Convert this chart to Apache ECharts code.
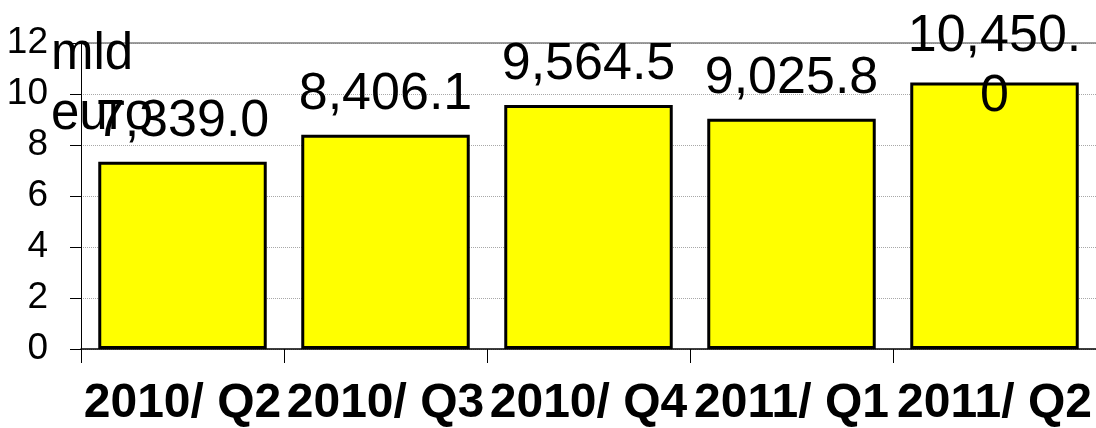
<!DOCTYPE html>
<html>
<head>
<meta charset="utf-8">
<script src="https://cdn.jsdelivr.net/npm/echarts@6/dist/echarts.min.js"></script>
<style>
  html, body { margin: 0; padding: 0; background: #fff; }
  #chart { width: 1096px; height: 428px; }
</style>
</head>
<body>
<div id="chart"></div>
<script>
const categories = ["2010/ Q2", "2010/ Q3", "2010/ Q4", "2011/ Q1", "2011/ Q2"];
// values in mln euro, axis shown in mld euro
const valuesMln = [7339.0, 8406.1, 9564.5, 9025.8, 10450.0];
const yTicks = { min: 0, max: 12, interval: 2 };
const unitLabel = "mld\neuro";

const FONT = "Liberation Sans, Arial, sans-serif";

const chart = echarts.init(document.getElementById("chart"));

const fmt = (v) =>
  v.toLocaleString("en-US", { minimumFractionDigits: 1, maximumFractionDigits: 1 });

const barData = valuesMln.map((v) => {
  const item = { value: v / 1000, raw: v };
  // long labels wrap; keep first line where a single line would sit
  if (fmt(v).length > 7) {
    item.label = { offset: [0, 54] };
  }
  return item;
});

const option = {
  animation: false,
  backgroundColor: "#fff",
  title: {
    text: unitLabel,
    left: 51,
    top: 25,
    padding: 0,
    textStyle: {
      fontFamily: FONT,
      fontSize: 51,
      fontWeight: "normal",
      lineHeight: 60,
      color: "#000",
    },
  },
  grid: {
    left: 81,
    right: 0,
    top: 43,
    bottom: 75,
  },
  xAxis: [
    {
      type: "category",
      data: categories,
      axisLine: { show: true, lineStyle: { color: "#000", width: 1.5 } },
      axisTick: { show: true, length: 14, lineStyle: { color: "#000" } },
      axisLabel: {
        fontFamily: FONT,
        fontSize: 48,
        fontWeight: "bold",
        color: "#000",
        margin: 31,
        interval: 0,
      },
    },
    {
      type: "category",
      position: "top",
      data: categories,
      axisLine: { show: true, lineStyle: { color: "#808080", width: 1.5 } },
      axisTick: { show: false },
      axisLabel: { show: false },
    },
  ],
  yAxis: {
    type: "value",
    min: yTicks.min,
    max: yTicks.max,
    interval: yTicks.interval,
    axisLine: { show: true, lineStyle: { color: "#000", width: 1 } },
    axisTick: { show: true, length: 11, lineStyle: { color: "#000" } },
    axisLabel: {
      fontFamily: FONT,
      fontSize: 37,
      color: "#000",
      margin: 33,
    },
    splitLine: {
      show: true,
      lineStyle: { color: "#a8a8a8", type: "dotted", width: 1 },
    },
  },
  series: [
    {
      type: "bar",
      data: barData,
      barCategoryGap: "17%",
      itemStyle: {
        color: "#ffff00",
        borderColor: "#000",
        borderWidth: 3,
      },
      label: {
        show: true,
        position: "top",
        distance: 10,
        fontFamily: FONT,
        fontSize: 52,
        lineHeight: 60,
        color: "#000",
        width: 185,
        overflow: "breakAll",
        formatter: (p) => fmt(p.data.raw),
      },
    },
  ],
};

chart.setOption(option);
window.addEventListener("resize", () => chart.resize());
</script>
</body>
</html>
